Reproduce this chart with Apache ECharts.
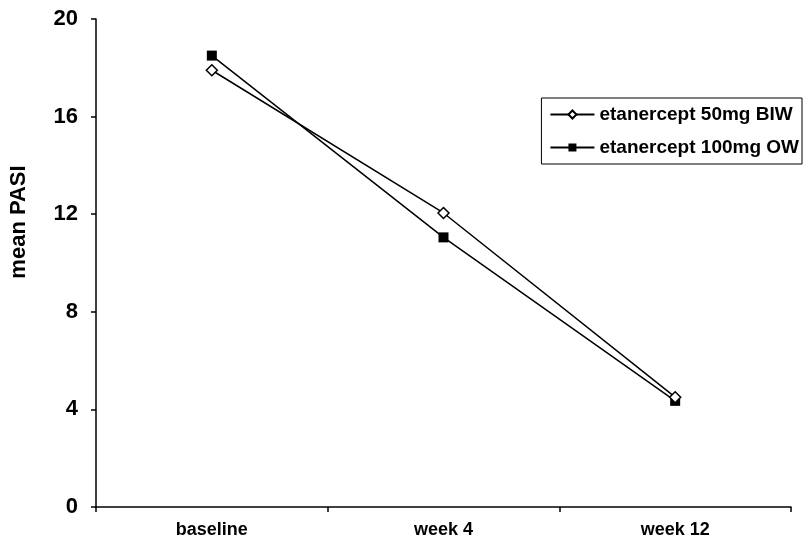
<!DOCTYPE html>
<html>
<head>
<meta charset="utf-8">
<script src="https://cdn.jsdelivr.net/npm/echarts@6/dist/echarts.min.js"></script>
<style>
html,body{margin:0;padding:0;background:#fff;}
#chart{width:803px;height:544px;}
</style>
</head>
<body>
<div id="chart"></div>
<script>
var categories = ['baseline', 'week 4', 'week 12'];
var seriesNames = ['etanercept 50mg BIW', 'etanercept 100mg OW'];
var values50BIW = [17.9, 12.05, 4.5];
var values100OW = [18.5, 11.05, 4.35];
var yTicks = [0, 4, 8, 12, 16, 20];

var FONT = '"Liberation Sans", Arial, sans-serif';
var chart = echarts.init(document.getElementById('chart'), null, {renderer: 'canvas'});
chart.setOption({
  animation: false,
  backgroundColor: '#fff',
  grid: {left: 91, right: 12, top: 19, bottom: 37, containLabel: false},
  legend: {
    orient: 'vertical',
    right: 1,
    top: 98,
    data: seriesNames,
    itemWidth: 44,
    itemHeight: 10,
    itemGap: 14,
    padding: [7, 3, 7, 8],
    borderColor: '#000',
    borderWidth: 1,
    textStyle: {fontFamily: FONT, fontWeight: 'bold', fontSize: 19, color: '#000'}
  },
  xAxis: {
    type: 'category',
    data: categories,
    boundaryGap: true,
    axisLine: {lineStyle: {color: '#000', width: 1.5}},
    axisTick: {show: true, inside: false, length: 5, lineStyle: {color: '#000', width: 1.5}},
    axisLabel: {fontFamily: FONT, fontWeight: 'bold', fontSize: 18, color: '#000', margin: 14}
  },
  yAxis: {
    type: 'value',
    min: yTicks[0],
    max: yTicks[yTicks.length - 1],
    interval: 4,
    name: 'mean PASI',
    nameLocation: 'middle',
    nameRotate: 90,
    nameGap: 66,
    nameTextStyle: {fontFamily: FONT, fontWeight: 'bold', fontSize: 22, color: '#000', padding: [0, 0, 0, 82]},
    axisLine: {show: true, lineStyle: {color: '#000', width: 1.5}},
    axisTick: {show: true, length: 5, lineStyle: {color: '#000', width: 1.5}},
    splitLine: {show: false},
    axisLabel: {fontFamily: FONT, fontWeight: 'bold', fontSize: 22, color: '#000', margin: 18}
  },
  series: [
    {
      name: seriesNames[0],
      type: 'line',
      data: values50BIW,
      symbol: 'diamond',
      symbolSize: 11,
      itemStyle: {color: '#fff', borderColor: '#000', borderWidth: 1.5},
      lineStyle: {color: '#000', width: 1.5},
      z: 3
    },
    {
      name: seriesNames[1],
      type: 'line',
      data: values100OW,
      symbol: 'rect',
      symbolSize: 10,
      itemStyle: {color: '#000', borderColor: '#000', borderWidth: 0},
      lineStyle: {color: '#000', width: 1.5},
      z: 2
    }
  ]
});
</script>
</body>
</html>
